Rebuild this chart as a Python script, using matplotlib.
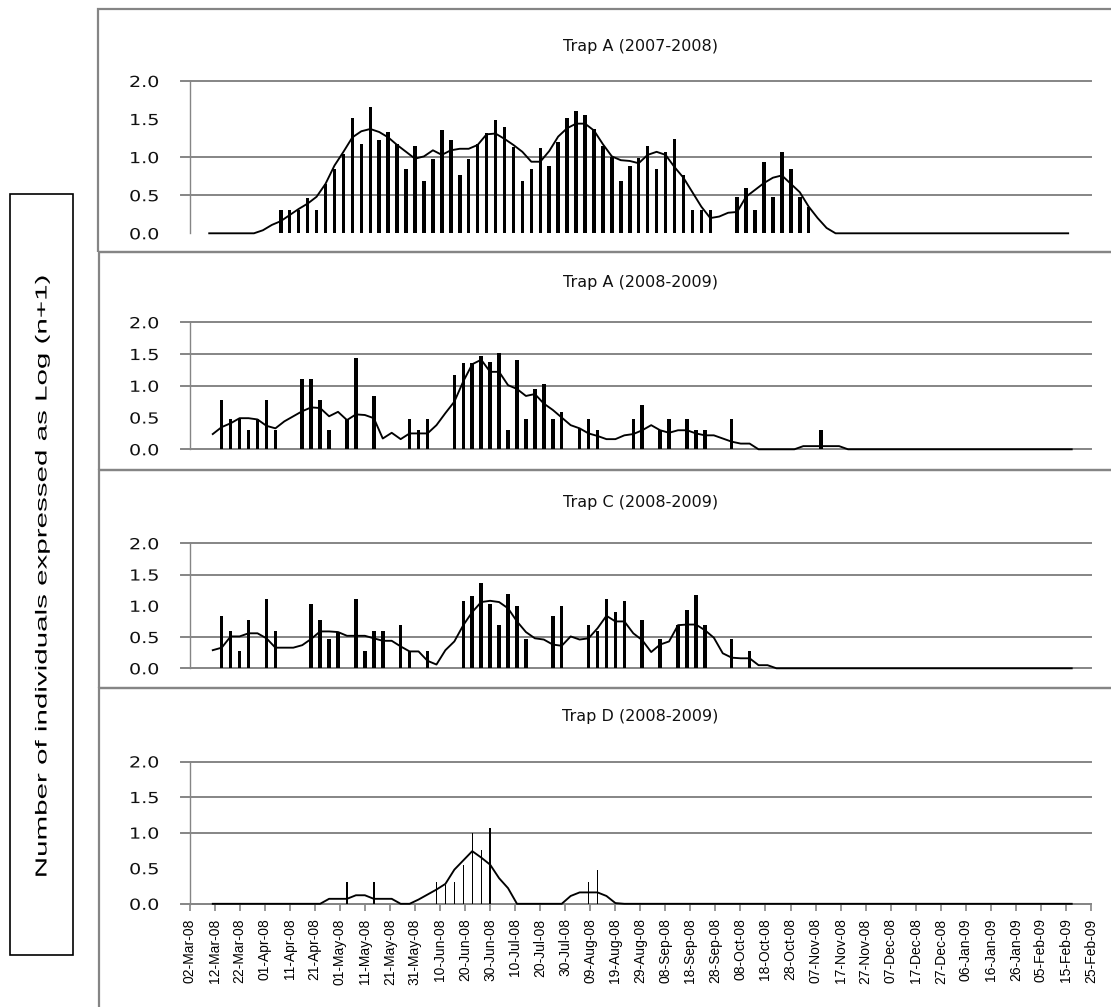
import matplotlib
matplotlib.use('Agg')
import matplotlib.pyplot as plt
import matplotlib.patches as mpatches
import matplotlib.dates as mdates
from matplotlib.patheffects import AbstractPathEffect
from matplotlib.transforms import Affine2D
import pandas as pd
import numpy as np

# ---------------- data ----------------
axis_start = '2008-03-02'
axis_end = '2009-02-25'
tick_every = '10D'

# sampling schedule (regular sampling visits)
start_A07 = '2008-03-09 21:00'   # Trap A 2007-2008 season plotted on the same day/month axis
start_08 = '2008-03-11 07:00'
step_days = 3.573
n_samples = 97

titles = ['Trap A (2007-2008)', 'Trap A (2008-2009)', 'Trap C (2008-2009)', 'Trap D (2008-2009)']

trapA07_bars = [0, 0, 0, 0, 0, 0, 0, 0,
                0.30, 0.30, 0.30, 0.47, 0.30, 0.65, 0.84, 1.04, 1.52, 1.17,
                1.66, 1.22, 1.33, 1.17, 0.84, 1.14, 0.69, 0.98, 1.36, 1.22,
                0.77, 0.98, 1.17, 1.32, 1.49, 1.40, 1.13, 0.69, 0.84, 1.12,
                0.89, 1.20, 1.52, 1.61, 1.56, 1.37, 1.14, 1.00, 0.69, 0.89,
                0.99, 1.14, 0.84, 1.07, 1.24, 0.77, 0.30, 0.30, 0.30, 0,
                0, 0.48, 0.59, 0.30, 0.94, 0.48, 1.07, 0.84, 0.48, 0.35] + [0] * 29
trapA07_line = [0, 0, 0, 0, 0, 0, 0.04, 0.11, 0.16, 0.24,
                0.32, 0.39, 0.48, 0.65, 0.89, 1.07, 1.26, 1.34, 1.37, 1.33,
                1.26, 1.16, 1.07, 0.98, 1.01, 1.09, 1.03, 1.09, 1.11, 1.11,
                1.16, 1.30, 1.31, 1.24, 1.16, 1.07, 0.94, 0.94, 1.08, 1.27,
                1.38, 1.44, 1.44, 1.35, 1.17, 1.01, 0.96, 0.95, 0.92, 1.03,
                1.07, 1.03, 0.87, 0.73, 0.54, 0.35, 0.20, 0.22, 0.27, 0.28,
                0.48, 0.57, 0.66, 0.73, 0.76, 0.65, 0.54, 0.35, 0.20, 0.07] + [0] * 27

trapA08_bars = [0, 0.77, 0.48, 0.49, 0.30, 0.48, 0.77, 0.31, 0, 0,
                1.11, 1.11, 0.77, 0.30, 0, 0.48, 1.44, 0, 0.84, 0,
                0, 0, 0.48, 0.30, 0.48, 0, 0, 1.17, 1.36, 1.36,
                1.47, 1.37, 1.51, 0.30, 1.41, 0.48, 0.95, 1.03, 0.48, 0.58,
                0, 0.33, 0.48, 0.30, 0, 0, 0, 0.48, 0.70, 0,
                0.30, 0.48, 0, 0.48, 0.30, 0.30, 0, 0, 0.48, 0,
                0, 0, 0, 0, 0, 0, 0, 0, 0.30] + [0] * 28
trapA08_line = [0.24, 0.35, 0.41, 0.49, 0.49, 0.47, 0.37, 0.33, 0.44, 0.52,
                0.60, 0.66, 0.65, 0.52, 0.59, 0.46, 0.55, 0.54, 0.49, 0.17,
                0.26, 0.16, 0.25, 0.25, 0.25, 0.38, 0.57, 0.75, 1.07, 1.34,
                1.41, 1.22, 1.22, 1.01, 0.95, 0.84, 0.87, 0.72, 0.62, 0.50,
                0.38, 0.33, 0.25, 0.21, 0.16, 0.16, 0.22, 0.24, 0.30, 0.38,
                0.30, 0.26, 0.30, 0.30, 0.25, 0.22, 0.22, 0.17, 0.12, 0.09,
                0.09, 0, 0, 0, 0, 0, 0.05, 0.05, 0.05, 0.05,
                0.05] + [0] * 26

trapC08_bars = [0, 0.84, 0.60, 0.28, 0.77, 0, 1.11, 0.60, 0, 0,
                0, 1.03, 0.77, 0.47, 0.58, 0, 1.11, 0.28, 0.60, 0.60,
                0, 0.69, 0.28, 0, 0.28, 0, 0, 0, 1.08, 1.15,
                1.36, 1.03, 0.69, 1.19, 1.00, 0.47, 0, 0, 0.84, 1.00,
                0, 0, 0.69, 0.60, 1.11, 0.90, 1.08, 0, 0.77, 0,
                0.47, 0, 0.69, 0.93, 1.17, 0.69, 0, 0, 0.47, 0,
                0.28] + [0] * 36
trapC08_line = [0.29, 0.33, 0.51, 0.51, 0.56, 0.56, 0.48, 0.33, 0.33, 0.33,
                0.37, 0.47, 0.59, 0.59, 0.58, 0.52, 0.52, 0.52, 0.48, 0.44,
                0.44, 0.35, 0.27, 0.27, 0.12, 0.06, 0.29, 0.43, 0.69, 0.90,
                1.06, 1.08, 1.06, 0.96, 0.75, 0.58, 0.48, 0.46, 0.38, 0.36,
                0.51, 0.46, 0.48, 0.64, 0.84, 0.75, 0.75, 0.56, 0.45, 0.26,
                0.38, 0.43, 0.69, 0.70, 0.70, 0.61, 0.49, 0.24, 0.17, 0.16,
                0.16, 0.05, 0.05] + [0] * 34

trapD08_bars = [0] * 15 + [0.30, 0, 0, 0.30, 0, 0, 0, 0, 0, 0,
                           0.30, 0.27, 0.30, 0.55, 1.00, 0.75, 1.06, 0, 0, 0,
                           0, 0, 0, 0, 0, 0, 0, 0.30, 0.47] + [0] * 53
trapD08_line = [0] * 13 + [0.07, 0.07, 0.07, 0.12, 0.12, 0.07, 0.07, 0.07, 0, 0,
                           0.06, 0.13, 0.20, 0.28, 0.48, 0.61, 0.74, 0.65, 0.55, 0.36,
                           0.22, 0, 0, 0, 0, 0, 0, 0.11, 0.16, 0.16,
                           0.16, 0.11, 0.01] + [0] * 51

yticks = [0.0, 0.5, 1.0, 1.5, 2.0]
ytick_labels = ['0.0', '0.5', '1.0', '1.5', '2.0']
visible_grid = [[0.5, 1.0, 2.0], [0.0, 1.0, 1.5, 2.0], [0.0, 0.5, 1.5, 2.0], [0.0, 1.0, 1.5, 2.0]]
ylabel = 'Number of individuals expressed as Log (n+1)'


# ---------------- helpers ----------------
class Stretch(AbstractPathEffect):
    """Widen glyphs along the text direction (text stays a real Text artist)."""

    def __init__(self, k, anchor='center'):
        super().__init__()
        self.k = k
        self.anchor = anchor

    def draw_path(self, renderer, gc, tpath, affine, rgbFace=None):
        ext = tpath.get_extents()
        if self.anchor == 'end':
            a = ext.x1
        elif self.anchor == 'start':
            a = ext.x0
        else:
            a = (ext.x0 + ext.x1) / 2
        t = Affine2D().translate(-a, 0).scale(self.k, 1).translate(a, 0) + affine
        renderer.draw_path(gc, tpath, t, rgbFace)


W, H = 1111, 1007
fig = plt.figure(figsize=(W / 100, H / 100), dpi=100)
fig.patch.set_facecolor('white')


def fbox(x0, y0, x1, y1):
    return [x0 / W, 1 - y1 / H, (x1 - x0) / W, (y1 - y0) / H]


steps = pd.to_timedelta(np.arange(n_samples) * step_days, unit='D')
dates_A07 = pd.Timestamp(start_A07) + steps
dates_08 = pd.Timestamp(start_08) + steps

series = [(dates_A07, trapA07_bars, trapA07_line),
          (dates_08, trapA08_bars, trapA08_line),
          (dates_08, trapC08_bars, trapC08_line),
          (dates_08, trapD08_bars, trapD08_line)]

# pixel layout: (top of 2.0, bottom 0.0, title y)
panel_px = [(81, 233.3, 47), (322.3, 449.3, 283), (543.3, 668.3, 502), (761.5, 903.8, 717)]
frames = [(97.5, 9, 1116, 251.5), (99, 251.5, 1116, 470), (99, 470, 1116, 688), (99, 688, 1116, 1012)]
bar_widths = [1.4, 1.4, 1.4, 0.55]

grey = '#858585'
AX_L, AX_R = 189.5, 1091
xmin, xmax = pd.Timestamp(axis_start), pd.Timestamp(axis_end)
tick_dates = pd.date_range(xmin, xmax, freq=tick_every)

for fr in frames:
    x0, y0, x1, y1 = fr
    fig.add_artist(mpatches.Rectangle((x0 / W, 1 - y1 / H), (x1 - x0) / W, (y1 - y0) / H,
                                      transform=fig.transFigure, fill=False,
                                      edgecolor=grey, linewidth=1.6))

for i, ((dates, bars, line), (ytop, ybot, ty), title) in enumerate(zip(series, panel_px, titles)):
    ax = fig.add_axes(fbox(AX_L, ytop, AX_R, ybot))
    ax.set_xlim(xmin, xmax)
    ax.set_ylim(0, 2.0)
    ax.patch.set_alpha(0)
    for g in visible_grid[i]:
        ax.plot([-9 / (AX_R - AX_L), 1], [g, g], transform=ax.get_yaxis_transform(),
                color=grey, lw=1.4, clip_on=False, zorder=1)
    ax.bar(dates, bars, width=bar_widths[i], color='black', linewidth=0, zorder=3)
    ax.plot(dates, line, color='black', lw=1.35, zorder=4, clip_on=False)
    for s in ['top', 'right', 'bottom']:
        ax.spines[s].set_visible(False)
    ax.spines['left'].set_color(grey)
    ax.spines['left'].set_linewidth(1.0)
    ax.set_yticks(yticks)
    ax.set_yticklabels(ytick_labels)
    ax.tick_params(axis='y', length=0, pad=22, labelsize=11, labelcolor='#111111')
    for lab in ax.get_yticklabels():
        lab.set_path_effects([Stretch(1.25, 'end')])
    ax.set_xticks(tick_dates)
    if i < 3:
        ax.tick_params(axis='x', length=0, labelbottom=False)
    else:
        ax.spines['bottom'].set_visible(True)
        ax.spines['bottom'].set_color(grey)
        ax.spines['bottom'].set_linewidth(1.4)
        ax.xaxis.set_major_formatter(mdates.DateFormatter('%d-%b-%y'))
        ax.tick_params(axis='x', direction='out', length=5, width=1.2, color=grey,
                       pad=5.5, labelsize=10, labelcolor='black')
        for lab in ax.get_xticklabels():
            lab.set_rotation(90)
            lab.set_family(['Liberation Sans', 'DejaVu Sans'])
    fig.text(((AX_L + AX_R) / 2) / W, 1 - ty / H, title, ha='center', va='center',
             fontsize=11.5, color='#111111')

# y label box
fig.add_artist(mpatches.Rectangle((10 / W, 1 - 955 / H), 63 / W, (955 - 194) / H,
                                  transform=fig.transFigure, fill=False,
                                  edgecolor='black', linewidth=1.2))
ytxt = fig.text(42 / W, 1 - 576 / H, ylabel, rotation=90, ha='center', va='center',
                fontsize=11.5, family=['Liberation Sans', 'DejaVu Sans'])
ytxt.set_path_effects([Stretch(1.85, 'center')])

fig.savefig('out.png', dpi=100)
